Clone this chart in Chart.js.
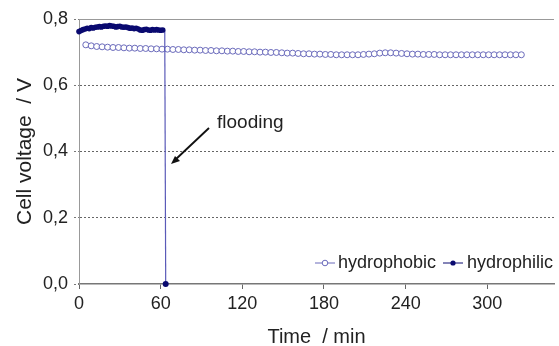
<!DOCTYPE html>
<html>
<head>
<meta charset="utf-8">
<script src="https://cdn.jsdelivr.net/npm/chart.js@4.4.0/dist/chart.umd.min.js"></script>
<style>
  html, body { margin: 0; padding: 0; background: #fff; }
  #wrap { width: 559px; height: 346px; }
</style>
</head>
<body>
<div id="wrap"><canvas id="myChart"></canvas></div>
<script>
/* data */
const phobic_time = [5, 9, 13, 17, 21, 25, 29, 33, 37, 41, 45, 49, 53, 57, 61, 65, 69, 73, 77, 81,
  85, 89, 93, 97, 101, 105, 109, 113, 117, 121, 125, 129, 133, 137, 141, 145, 149, 153, 157, 161,
  165, 169, 173, 177, 181, 185, 189, 193, 197, 201, 205, 209, 213, 217, 221, 225, 229, 233, 237, 241,
  245, 249, 253, 257, 261, 265, 269, 273, 277, 281, 285, 289, 293, 297, 301, 305, 309, 313, 317, 321, 325];
const phobic_volt = [0.722, 0.719, 0.717, 0.716, 0.715, 0.714, 0.714, 0.713, 0.712, 0.712, 0.711, 0.711, 0.710, 0.710, 0.709, 0.709, 0.708, 0.708, 0.707, 0.707,
  0.706, 0.706, 0.705, 0.705, 0.704, 0.704, 0.703, 0.703, 0.702, 0.702, 0.701, 0.701, 0.700, 0.700, 0.699, 0.699, 0.698, 0.697, 0.697, 0.696,
  0.695, 0.695, 0.694, 0.694, 0.693, 0.693, 0.692, 0.692, 0.692, 0.692, 0.692, 0.693, 0.694, 0.695, 0.697, 0.698, 0.698, 0.697, 0.696, 0.695,
  0.694, 0.694, 0.693, 0.693, 0.693, 0.692, 0.692, 0.692, 0.692, 0.692, 0.692, 0.692, 0.692, 0.692, 0.692, 0.692, 0.692, 0.692, 0.692, 0.692, 0.692];

const philic_time = [0, 1.5, 3, 4.5, 6, 7.5, 9, 10.5, 12, 13.5, 15, 16.5, 18, 19.5, 21, 22.5, 24, 25.5, 27, 28.5,
  30, 31.5, 33, 34.5, 36, 37.5, 39, 40.5, 42, 43.5, 45, 46.5, 48, 49.5, 51, 52.5, 54, 55.5, 57, 58.5, 60, 61.5, 63, 63.7];
const philic_volt = [0.762, 0.765, 0.768, 0.770, 0.772, 0.771, 0.774, 0.773, 0.775, 0.776, 0.777, 0.776, 0.778, 0.779, 0.778, 0.780, 0.779, 0.778, 0.776, 0.777,
  0.778, 0.776, 0.775, 0.776, 0.774, 0.772, 0.773, 0.771, 0.772, 0.770, 0.767, 0.766, 0.768, 0.769, 0.767, 0.766, 0.768, 0.767, 0.768, 0.767, 0.766, 0.767, 0.766, 0.0];

const x_ticks = [0, 60, 120, 180, 240, 300];
const y_ticks = [0, 0.2, 0.4, 0.6, 0.8];

const series_names = ["hydrophobic", "hydrophilic"];
const colour_phobic = "#6a6abb";
const colour_philic = "#0a0a70";
const font_name = "'Liberation Sans', Arial, sans-serif";

const toPoints = (xs, ys) => xs.map((x, i) => ({ x: x, y: ys[i] }));

// legend + "flooding" arrow drawn on top
const extrasPlugin = {
  id: "extras",
  afterDraw(chart) {
    const ctx = chart.ctx;
    ctx.save();
    ctx.fillStyle = "#222";
    ctx.textBaseline = "middle";
    ctx.textAlign = "left";

    // flooding label and arrow
    ctx.font = "19px " + font_name;
    ctx.fillText("flooding", 217, 123);
    ctx.strokeStyle = "#111";
    ctx.lineWidth = 1.8;
    ctx.beginPath();
    ctx.moveTo(209, 128);
    ctx.lineTo(175, 160);
    ctx.stroke();
    ctx.fillStyle = "#111";
    ctx.beginPath();
    ctx.moveTo(171, 164);
    ctx.lineTo(180, 161);
    ctx.lineTo(175, 156);
    ctx.closePath();
    ctx.fill();

    // legend
    const ly = 263;
    ctx.font = "18px " + font_name;
    ctx.lineWidth = 1;
    ctx.strokeStyle = colour_phobic;
    ctx.beginPath();
    ctx.moveTo(315, ly);
    ctx.lineTo(335, ly);
    ctx.stroke();
    ctx.fillStyle = "#fff";
    ctx.beginPath();
    ctx.arc(325, ly, 2.8, 0, Math.PI * 2);
    ctx.fill();
    ctx.stroke();
    ctx.fillStyle = "#222";
    ctx.fillText(series_names[0], 338, ly);

    ctx.strokeStyle = colour_philic;
    ctx.beginPath();
    ctx.moveTo(443, ly);
    ctx.lineTo(463, ly);
    ctx.stroke();
    ctx.fillStyle = colour_philic;
    ctx.beginPath();
    ctx.arc(453, ly, 2.6, 0, Math.PI * 2);
    ctx.fill();
    ctx.fillStyle = "#222";
    ctx.fillText(series_names[1], 467, ly);
    ctx.restore();
  }
};

const initChart = (target) => {
  const last = philic_time.length - 1;
  const data = {
    datasets: [
      {
        label: series_names[1],
        data: toPoints(philic_time, philic_volt),
        borderColor: colour_philic,
        backgroundColor: colour_philic,
        borderWidth: 3,
        pointRadius: (c) => (c.dataIndex === last - 1 ? 0 : c.dataIndex === last ? 3 : 2.8),
        pointBorderWidth: 0,
        pointBackgroundColor: colour_philic,
        segment: {
          borderColor: (c) => (c.p1DataIndex === last ? "#5a5ab8" : colour_philic),
          borderWidth: (c) => (c.p1DataIndex === last ? 1.2 : 3)
        },
        tension: 0
      },
      {
        label: series_names[0],
        data: toPoints(phobic_time, phobic_volt),
        borderColor: colour_phobic,
        backgroundColor: "#fff",
        borderWidth: 1,
        pointRadius: 3,
        pointBorderWidth: 1,
        pointBorderColor: colour_phobic,
        pointBackgroundColor: "#fff",
        tension: 0
      }
    ]
  };

  const config = {
    type: "line",
    data: data,
    options: {
      responsive: true,
      maintainAspectRatio: false,
      animation: false,
      clip: false,
      layout: { padding: { top: 19, right: 0, bottom: 0, left: 0 } },
      plugins: {
        legend: { display: false },
        tooltip: { enabled: false }
      },
      scales: {
        x: {
          type: "linear",
          min: 0,
          max: 349,
          afterBuildTicks: (scale) => {
            scale.ticks = x_ticks.map((v) => ({ value: v }));
          },
          afterFit: (scale) => { scale.height = 62; },
          ticks: {
            color: "#222",
            font: { family: font_name, size: 18 },
            padding: 4,
            maxRotation: 0
          },
          grid: {
            drawOnChartArea: false,
            drawTicks: true,
            tickLength: 5,
            tickColor: "#666",
            tickWidth: 1
          },
          border: { display: true, color: "#777", width: 1.5 },
          title: {
            display: true,
            text: "Time  / min",
            color: "#222",
            font: { family: font_name, size: 20 },
            padding: { top: 0, bottom: -3 }
          }
        },
        y: {
          min: 0,
          max: 0.8,
          afterBuildTicks: (scale) => {
            scale.ticks = y_ticks.map((v) => ({ value: v }));
          },
          afterFit: (scale) => { scale.width = 79; },
          ticks: {
            color: "#222",
            font: { family: font_name, size: 18 },
            padding: 6,
            callback: (v) => v.toFixed(1).replace(".", ",")
          },
          grid: {
            color: (c) => {
              if (!c.tick) return "#777";
              if (c.tick.value === 0) return "rgba(0,0,0,0)";
              if (c.tick.value > 0.79) return "#999";
              return "#666";
            },
            lineWidth: 1,
            tickLength: 5,
            tickColor: "#777",
            tickBorderDash: [2, 2]
          },
          border: {
            display: true,
            color: "#999",
            width: 1,
            dash: (c) => (c.tick && c.tick.value > 0.01 && c.tick.value < 0.79 ? [2, 2] : [])
          },
          title: {
            display: true,
            text: "Cell voltage  / V",
            color: "#222",
            font: { family: font_name, size: 21 },
            padding: { top: 13, bottom: 0 }
          }
        }
      }
    },
    plugins: [extrasPlugin]
  };
  return new Chart(target, config);
};

document.addEventListener("DOMContentLoaded", () => {
  const chart_target = document.querySelector("#myChart");
  initChart(chart_target);
});
</script>
</body>
</html>
